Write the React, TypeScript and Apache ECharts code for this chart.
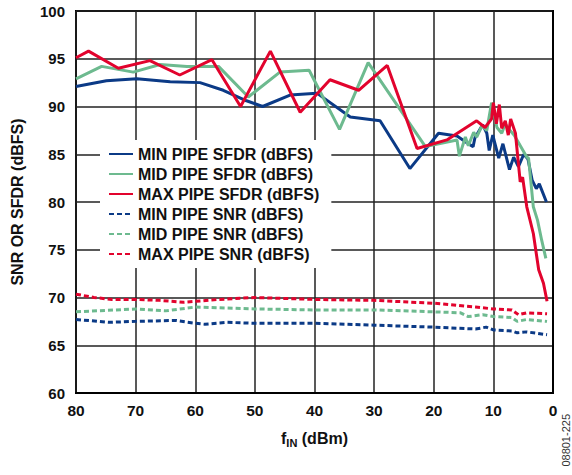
import React, { useEffect, useRef } from "react";
import * as echarts from "echarts";

// x = f_IN (dBm), y = dBFS
const minSfdr: number[][] = [
  [80, 92.1], [74.9, 92.7], [69.8, 92.9], [64.2, 92.6], [59.2, 92.5], [55.3, 91.7],
  [51.4, 90.6], [48.7, 90.0], [44.1, 91.2], [39.6, 91.4], [34.0, 88.9], [29.0, 88.5],
  [24.0, 83.5], [19.2, 87.2], [16.1, 86.9], [14.2, 86.1], [13.4, 85.8], [13.1, 86.7],
  [11.8, 88.1], [11.1, 87.2], [10.7, 85.4], [10.1, 87.0], [9.1, 84.6], [8.4, 86.1],
  [7.3, 83.4], [6.6, 84.7], [5.8, 83.7], [4.9, 85.0], [4.2, 84.5], [3.5, 82.3],
  [2.8, 81.4], [2.3, 81.9], [1.1, 80.0],
];
const midSfdr: number[][] = [
  [80, 92.9], [75.7, 94.2], [70.4, 93.6], [65.9, 94.4], [61.4, 94.2], [56.1, 94.2],
  [51.1, 91.0], [45.8, 93.6], [40.9, 93.8], [35.8, 87.6], [31.0, 94.6], [21.4, 85.8],
  [16.1, 86.5], [15.7, 84.8], [14.7, 86.8], [14.2, 85.9], [13.3, 87.3], [12.8, 86.8],
  [11.9, 88.0], [11.1, 87.5], [10.3, 90.4], [9.4, 87.8], [8.6, 87.2], [8.0, 88.2],
  [7.5, 87.7], [6.5, 87.0], [4.4, 84.7], [4.1, 84.6], [3.3, 79.5], [2.6, 78.1],
  [1.9, 76.0], [1.2, 74.1],
];
const maxSfdr: number[][] = [
  [80, 95.1], [77.9, 95.8], [72.9, 94.0], [67.6, 94.8], [62.6, 93.3], [57.2, 94.9],
  [52.4, 90.0], [47.4, 95.8], [42.4, 89.4], [37.4, 92.8], [32.6, 91.7], [27.8, 94.3],
  [22.8, 85.6], [17.8, 86.5], [12.8, 88.5], [11.4, 87.8], [10.3, 88.7], [10.0, 90.4],
  [9.5, 88.2], [9.0, 90.2], [8.6, 87.7], [8.0, 88.5], [7.5, 87.0], [7.1, 88.7],
  [6.3, 87.2], [5.5, 82.1], [5.1, 82.6], [4.4, 79.5], [3.3, 76.7], [2.4, 72.9],
  [1.6, 71.5], [1.0, 69.6],
];
const minSnr: number[][] = [
  [80, 67.7], [74.4, 67.4], [70, 67.5], [63.3, 67.6], [60, 67.3], [58.4, 67.2],
  [54.7, 67.4], [50, 67.3], [40, 67.3], [30, 67.1], [20, 66.9], [13, 66.7],
  [11.2, 66.9], [10, 66.6], [6.9, 66.5], [6, 66.3], [4.4, 66.4], [1, 66.1],
];
const midSnr: number[][] = [
  [80, 68.5], [70, 68.8], [65, 68.6], [60, 69.0], [50, 68.8], [40, 68.7],
  [30, 68.7], [20, 68.5], [15.5, 68.4], [14.2, 68.0], [11.8, 68.2], [10, 68.0],
  [6.9, 67.9], [6, 67.5], [4.4, 67.7], [1, 67.5],
];
const maxSnr: number[][] = [
  [80, 70.35], [77, 70.0], [74, 69.8], [70, 69.8], [66, 69.7], [62, 69.5],
  [56, 69.8], [50, 70.0], [40, 69.8], [30, 69.7], [20, 69.4], [13, 69.0],
  [10, 68.8], [6.9, 68.7], [5.8, 68.2], [4.4, 68.4], [1, 68.3],
];

const seriesNames = [
  "MIN PIPE SFDR (dBFS)",
  "MID PIPE SFDR (dBFS)",
  "MAX PIPE SFDR (dBFS)",
  "MIN PIPE SNR (dBFS)",
  "MID PIPE SNR (dBFS)",
  "MAX PIPE SNR (dBFS)",
];
const seriesData = [minSfdr, midSfdr, maxSfdr, minSnr, midSnr, maxSnr];
const seriesColors = ["#0b3a86", "#6dba8f", "#e2032d", "#0b3a86", "#6dba8f", "#e2032d"];
const seriesDashed = [false, false, false, true, true, true];

const FONT = "Liberation Sans, Arial, Helvetica, sans-serif";

export default function App() {
  const ref = useRef<HTMLDivElement>(null);
  useEffect(() => {
    if (!ref.current) return;
    const chart = echarts.init(ref.current, null, { renderer: "svg" });
    chart.setOption({
      animation: false,
      backgroundColor: "#fff",
      grid: {
        left: 76,
        right: 19,
        top: 11,
        bottom: 82,
        show: true,
        borderColor: "#000",
        borderWidth: 2,
      },
      legend: {
        orient: "vertical",
        left: 100,
        top: 140,
        backgroundColor: "#fff",
        padding: [6, 12, 6, 8],
        itemWidth: 24,
        itemHeight: 14,
        itemGap: 4,
        itemStyle: { opacity: 0 },
        textStyle: { fontFamily: FONT, fontWeight: "bold", fontSize: 16, color: "#111" },
        data: seriesNames,
      },
      xAxis: {
        type: "value",
        inverse: true,
        min: 0,
        max: 80,
        interval: 10,
        axisLine: { show: true, lineStyle: { color: "#000", width: 2 } },
        axisTick: { show: false },
        splitLine: { show: true, lineStyle: { color: "#222", width: 1.5 } },
        axisLabel: {
          margin: 9,
          fontFamily: FONT,
          fontWeight: "bold",
          fontSize: 15.5,
          color: "#111",
        },
        name: "{f|f}{sub|IN}{r| (dBm)}",
        nameLocation: "middle",
        nameGap: 36,
        nameTextStyle: {
          rich: {
            f: { fontFamily: FONT, fontWeight: "bold", fontSize: 16, color: "#111" },
            sub: { fontFamily: FONT, fontWeight: "bold", fontSize: 11, color: "#111", verticalAlign: "bottom", padding: [8, 0, 0, 0] },
            r: { fontFamily: FONT, fontWeight: "bold", fontSize: 16, color: "#111" },
          },
        },
      },
      yAxis: {
        type: "value",
        min: 60,
        max: 100,
        interval: 5,
        axisLine: { show: true, lineStyle: { color: "#000", width: 2 } },
        axisTick: { show: false },
        splitLine: { show: true, lineStyle: { color: "#222", width: 1.5 } },
        axisLabel: {
          margin: 11,
          fontFamily: FONT,
          fontWeight: "bold",
          fontSize: 15,
          color: "#111",
        },
        name: "SNR OR SFDR (dBFS)",
        nameLocation: "middle",
        nameGap: 51,
        nameTextStyle: { fontFamily: FONT, fontWeight: "bold", fontSize: 16, color: "#111" },
      },
      graphic: [
        {
          type: "text",
          x: 566,
          y: 414,
          rotation: Math.PI / 2,
          style: {
            text: "08801-225",
            fontFamily: FONT,
            fontSize: 11,
            fill: "#333",
            align: "right",
            verticalAlign: "middle",
          },
        },
      ],
      series: seriesNames.map((name, i) => ({
        name,
        type: "line",
        data: seriesData[i],
        symbol: "none",
        z: seriesDashed[i] ? 3 : 4,
        lineStyle: {
          color: seriesColors[i],
          width: 3,
          type: seriesDashed[i] ? [5, 3] : "solid",
        },
        itemStyle: { color: seriesColors[i] },
      })),
    });
    return () => chart.dispose();
  }, []);
  return (
    <div
      ref={ref}
      style={{ position: "fixed", left: 0, top: 0, width: 572, height: 475 }}
    />
  );
}
